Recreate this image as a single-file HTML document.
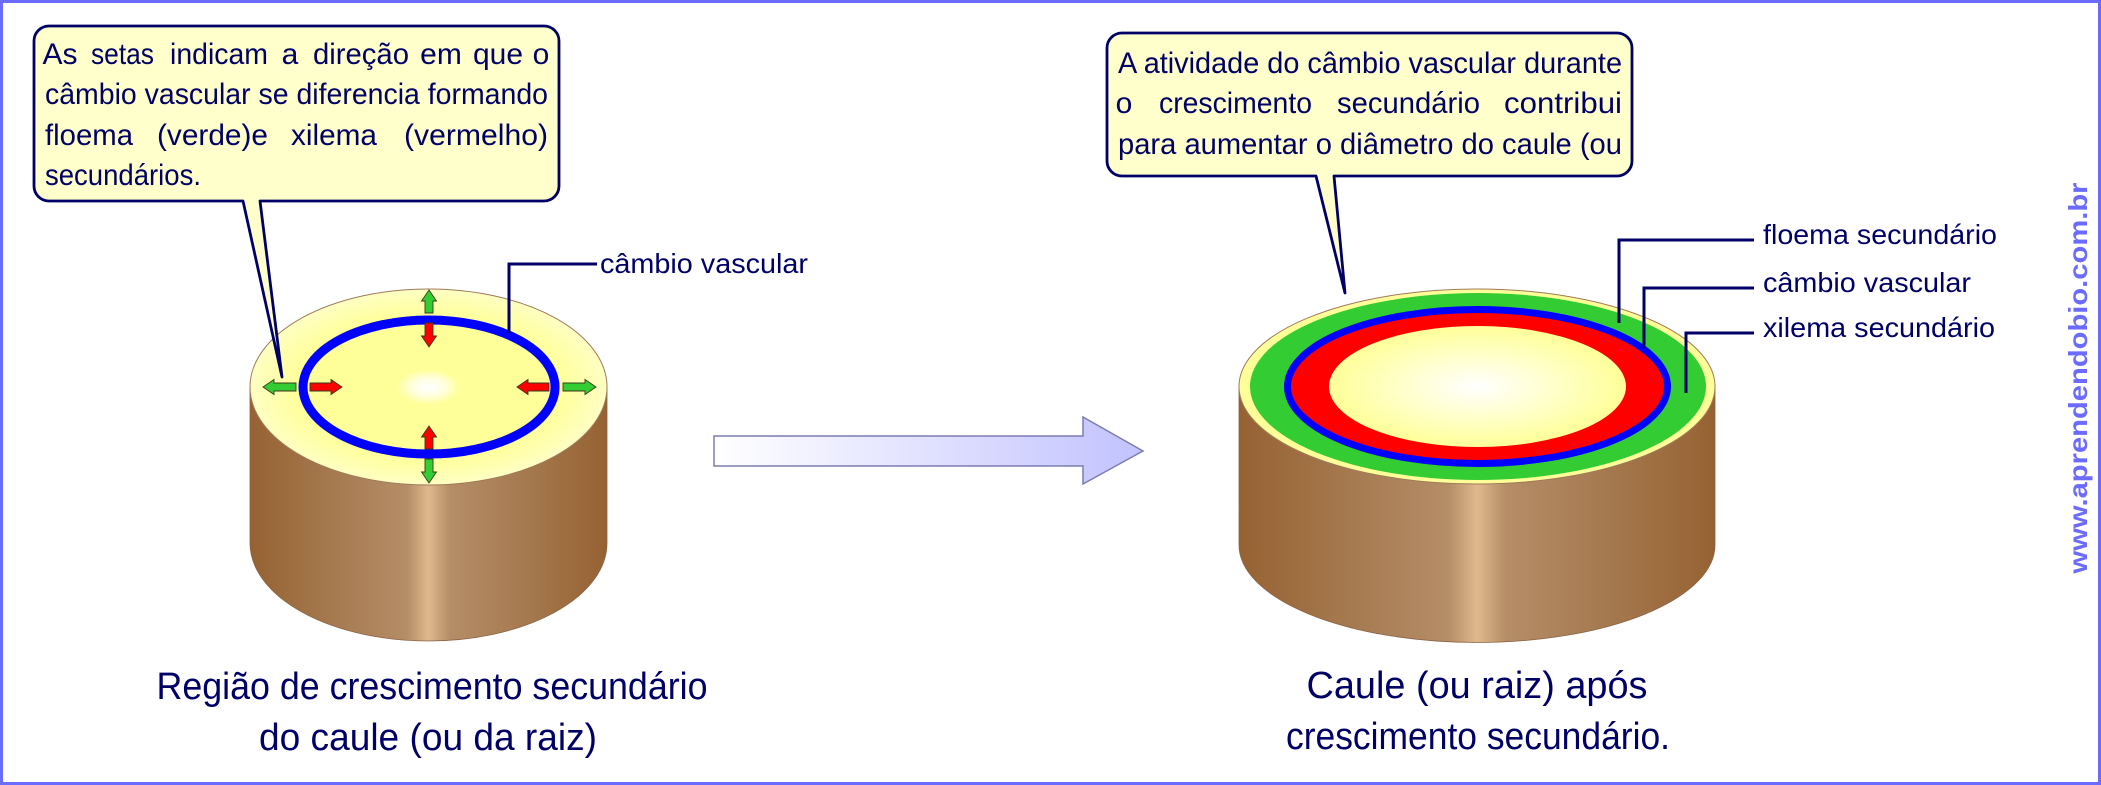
<!DOCTYPE html>
<html>
<head>
<meta charset="utf-8">
<style>
  html,body{margin:0;padding:0;background:#fff;}
  svg{display:block;}
  text{font-family:"Liberation Sans", sans-serif;}
</style>
</head>
<body>
<svg width="2101" height="785" viewBox="0 0 2101 785" xmlns="http://www.w3.org/2000/svg">
  <defs>
    <linearGradient id="barkL" gradientUnits="userSpaceOnUse" x1="250" y1="0" x2="607" y2="0">
      <stop offset="0" stop-color="#966232"/>
      <stop offset="0.3" stop-color="#aa8058"/>
      <stop offset="0.44" stop-color="#b58d66"/>
      <stop offset="0.5" stop-color="#e0b98e"/>
      <stop offset="0.56" stop-color="#b58d66"/>
      <stop offset="0.7" stop-color="#aa8058"/>
      <stop offset="1" stop-color="#966232"/>
    </linearGradient>
    <linearGradient id="barkR" gradientUnits="userSpaceOnUse" x1="1239" y1="0" x2="1715" y2="0">
      <stop offset="0" stop-color="#966232"/>
      <stop offset="0.3" stop-color="#aa8058"/>
      <stop offset="0.44" stop-color="#b58d66"/>
      <stop offset="0.5" stop-color="#e0b98e"/>
      <stop offset="0.56" stop-color="#b58d66"/>
      <stop offset="0.7" stop-color="#aa8058"/>
      <stop offset="1" stop-color="#966232"/>
    </linearGradient>
    <radialGradient id="topL" cx="0.5" cy="0.5" r="0.5">
      <stop offset="0" stop-color="#ffffff"/>
      <stop offset="0.09" stop-color="#ffffe0"/>
      <stop offset="0.18" stop-color="#ffff99"/>
      <stop offset="0.72" stop-color="#ffff99"/>
      <stop offset="1" stop-color="#ffffc4"/>
    </radialGradient>
    <radialGradient id="core" cx="0.5" cy="0.5" r="0.5">
      <stop offset="0" stop-color="#ffffff"/>
      <stop offset="0.5" stop-color="#ffffcc"/>
      <stop offset="1" stop-color="#ffff99"/>
    </radialGradient>
    <linearGradient id="bigArrow" gradientUnits="userSpaceOnUse" x1="714" y1="0" x2="1143" y2="0">
      <stop offset="0" stop-color="#ffffff"/>
      <stop offset="1" stop-color="#c2c2ff"/>
    </linearGradient>
  </defs>

  <!-- frame -->
  <rect x="1.5" y="1.5" width="2098" height="782" fill="#ffffff" stroke="#6b6bff" stroke-width="3"/>

  <!-- LEFT CYLINDER -->
  <path d="M250,387 L250,543 A178.5,98 0 0 0 607,543 L607,387 Z" fill="url(#barkL)" stroke="#8a6444" stroke-width="0.8"/>
  <ellipse cx="428.5" cy="387" rx="178.5" ry="98" fill="url(#topL)" stroke="#a07a5a" stroke-width="1"/>
  <ellipse cx="429" cy="387" rx="126" ry="67" fill="none" stroke="#0000ff" stroke-width="9"/>

  <!-- small arrows -->
  <g stroke="#3a3a1a" stroke-width="0.9">
    <polygon fill="#33cc33" points="296,383 274,383 274,379.5 263,387 274,394.5 274,391 296,391"/>
    <polygon fill="#ff0000" points="310,383 331,383 331,379.5 342,387 331,394.5 331,391 310,391"/>
    <polygon fill="#ff0000" points="549,383 528,383 528,379.5 517,387 528,394.5 528,391 549,391"/>
    <polygon fill="#33cc33" points="563,383 585,383 585,379.5 596,387 585,394.5 585,391 563,391"/>
    <polygon fill="#33cc33" points="425,313 425,301 421.5,301 429,290 436.5,301 433,301 433,313"/>
    <polygon fill="#ff0000" points="425,323 425,336 421.5,336 429,347 436.5,336 433,336 433,323"/>
    <polygon fill="#ff0000" points="425,449 425,437 421.5,437 429,426 436.5,437 433,437 433,449"/>
    <polygon fill="#33cc33" points="425,459 425,472 421.5,472 429,483 436.5,472 433,472 433,459"/>
  </g>

  <!-- left leader -->
  <polyline points="597,264 509,264 509,333" fill="none" stroke="#000066" stroke-width="3"/>
  <text x="600" y="273" font-size="28" fill="#000066" textLength="208" lengthAdjust="spacingAndGlyphs">câmbio vascular</text>

  <!-- RIGHT CYLINDER -->
  <path d="M1239,387 L1239,545 A238,97.5 0 0 0 1715,545 L1715,387 Z" fill="url(#barkR)" stroke="#8a6444" stroke-width="0.8"/>
  <ellipse cx="1477" cy="386.5" rx="238" ry="97.5" fill="#ffff99" stroke="#a07a5a" stroke-width="1"/>
  <ellipse cx="1478" cy="386.5" rx="228" ry="93.5" fill="#33cc33"/>
  <ellipse cx="1477.5" cy="386.5" rx="190" ry="77" fill="#ff0000" stroke="#0000ff" stroke-width="7"/>
  <ellipse cx="1477.5" cy="386.5" rx="148.5" ry="60.5" fill="url(#core)"/>

  <!-- right leaders -->
  <g fill="none" stroke="#000066" stroke-width="3">
    <polyline points="1754,240 1619,240 1619,323"/>
    <polyline points="1754,288 1644,288 1644,348"/>
    <polyline points="1754,333 1686,333 1686,393"/>
  </g>
  <g font-size="28" fill="#000066">
    <text x="1763" y="244" textLength="234" lengthAdjust="spacingAndGlyphs">floema secundário</text>
    <text x="1763" y="292" textLength="208" lengthAdjust="spacingAndGlyphs">câmbio vascular</text>
    <text x="1763" y="337" textLength="232" lengthAdjust="spacingAndGlyphs">xilema secundário</text>
  </g>

  <!-- middle arrow -->
  <polygon points="714,436 1083,436 1083,417 1143,451 1083,484 1083,466 714,466" fill="url(#bigArrow)" stroke="#7c7cb0" stroke-width="1.5"/>

  <!-- LEFT BUBBLE -->
  <path d="M49,26 H544 A15,15 0 0 1 559,41 V186 A15,15 0 0 1 544,201 H260 L282,377 L243,201 H49 A15,15 0 0 1 34,186 V41 A15,15 0 0 1 49,26 Z" fill="#ffffcc" stroke="#000066" stroke-width="2.8" stroke-linejoin="round"/>
  <g font-size="30" fill="#000066">
    <text x="60" y="64" text-anchor="middle">As</text>
    <text x="91" y="64" textLength="63" lengthAdjust="spacingAndGlyphs">setas</text>
    <text x="170" y="64" textLength="98" lengthAdjust="spacingAndGlyphs">indicam</text>
    <text x="290" y="64" text-anchor="middle">a</text>
    <text x="313" y="64" textLength="96" lengthAdjust="spacingAndGlyphs">direção</text>
    <text x="441" y="64" text-anchor="middle">em</text>
    <text x="498" y="64" text-anchor="middle">que</text>
    <text x="541" y="64" text-anchor="middle">o</text>

    <text x="45" y="104" textLength="503" lengthAdjust="spacingAndGlyphs">câmbio vascular se diferencia formando</text>

    <text x="45" y="145" textLength="88" lengthAdjust="spacingAndGlyphs">floema</text>
    <text x="157" y="145" textLength="111" lengthAdjust="spacingAndGlyphs">(verde)e</text>
    <text x="291" y="145" textLength="86" lengthAdjust="spacingAndGlyphs">xilema</text>
    <text x="404" y="145" textLength="144" lengthAdjust="spacingAndGlyphs">(vermelho)</text>

    <text x="45" y="185" textLength="156" lengthAdjust="spacingAndGlyphs">secundários.</text>
  </g>

  <!-- RIGHT BUBBLE -->
  <path d="M1122,33 H1617 A15,15 0 0 1 1632,48 V161 A15,15 0 0 1 1617,176 H1334 L1345,293 L1316,176 H1122 A15,15 0 0 1 1107,161 V48 A15,15 0 0 1 1122,33 Z" fill="#ffffcc" stroke="#000066" stroke-width="2.8" stroke-linejoin="round"/>
  <g font-size="30" fill="#000066">
    <text x="1118" y="73" textLength="504" lengthAdjust="spacingAndGlyphs">A atividade do câmbio vascular durante</text>
    <text x="1124" y="113" text-anchor="middle">o</text>
    <text x="1159" y="113" textLength="153" lengthAdjust="spacingAndGlyphs">crescimento</text>
    <text x="1337" y="113" textLength="143" lengthAdjust="spacingAndGlyphs">secundário</text>
    <text x="1504" y="113" textLength="118" lengthAdjust="spacingAndGlyphs">contribui</text>
    <text x="1118" y="154" textLength="504" lengthAdjust="spacingAndGlyphs">para aumentar o diâmetro do caule (ou</text>
  </g>

  <!-- bottom captions -->
  <g font-size="38" fill="#000066" text-anchor="middle">
    <text x="432" y="699" textLength="551" lengthAdjust="spacingAndGlyphs">Região de crescimento secundário</text>
    <text x="428" y="750" textLength="338" lengthAdjust="spacingAndGlyphs">do caule (ou da raiz)</text>
    <text x="1477" y="698" textLength="341" lengthAdjust="spacingAndGlyphs">Caule (ou raiz) após</text>
    <text x="1478" y="749" textLength="384" lengthAdjust="spacingAndGlyphs">crescimento secundário.</text>
  </g>

  <!-- watermark -->
  <text transform="translate(2087,378) rotate(-90)" text-anchor="middle" font-size="26" font-weight="bold" fill="#6b6bff" textLength="391" lengthAdjust="spacingAndGlyphs">www.aprendendobio.com.br</text>
</svg>
</body>
</html>
